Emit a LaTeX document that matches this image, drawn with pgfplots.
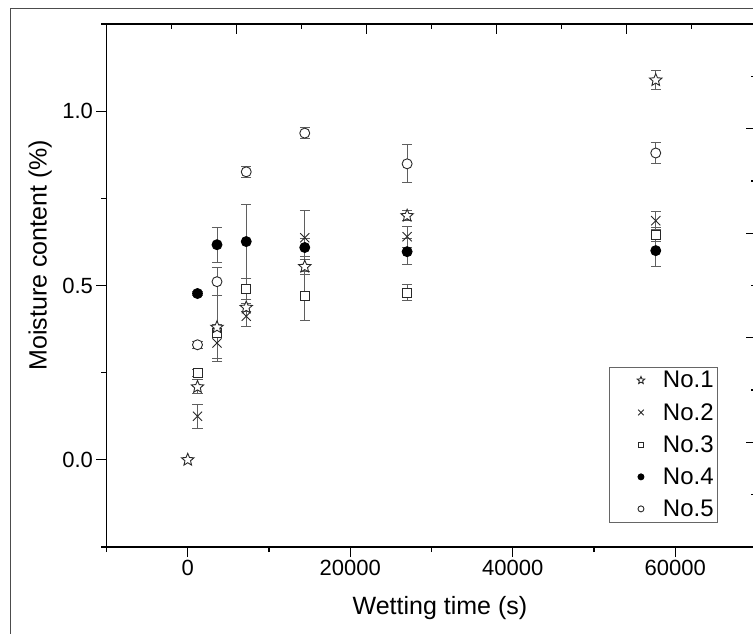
\documentclass[border=0pt]{standalone}
\usepackage{fontspec}
\setmainfont{Liberation Sans}
\usepackage{pgfplots}
\pgfplotsset{compat=1.18}

% hollow five-pointed star
\pgfdeclareplotmark{ostar}{%
  \pgfpathmoveto{\pgfpointpolar{90}{\pgfplotmarksize}}%
  \pgfpathlineto{\pgfpointpolar{126}{0.45\pgfplotmarksize}}%
  \pgfpathlineto{\pgfpointpolar{162}{\pgfplotmarksize}}%
  \pgfpathlineto{\pgfpointpolar{198}{0.45\pgfplotmarksize}}%
  \pgfpathlineto{\pgfpointpolar{234}{\pgfplotmarksize}}%
  \pgfpathlineto{\pgfpointpolar{270}{0.45\pgfplotmarksize}}%
  \pgfpathlineto{\pgfpointpolar{306}{\pgfplotmarksize}}%
  \pgfpathlineto{\pgfpointpolar{342}{0.45\pgfplotmarksize}}%
  \pgfpathlineto{\pgfpointpolar{18}{\pgfplotmarksize}}%
  \pgfpathlineto{\pgfpointpolar{54}{0.45\pgfplotmarksize}}%
  \pgfpathclose
  \pgfusepathqfillstroke
}

\definecolor{errgray}{RGB}{95,95,95}
\definecolor{mkgray}{RGB}{40,40,40}

\pgfplotsset{
  ebar/.style={
    error bars/.cd, y dir=both, y explicit,
    error bar style={line width=1pt, errgray},
    error mark=-,
    error mark options={rotate=90, mark size=5pt, line width=1pt, errgray},
  },
  legend image code/.code={%
    \path[draw=none, fill=none] (0pt,0pt) -- (50pt,0pt);
    \draw[#1, every mark/.append style={scale=0.6}] plot coordinates {(30pt,0pt)};},
}

\begin{document}
\begin{tikzpicture}
\useasboundingbox (0,0) rectangle (753pt,633pt);
\clip (0,0) rectangle (753pt,633pt);
% outer frame
\draw[line width=0.9pt, black!70] (10pt,-20pt) -- (10pt,625pt) -- (800pt,625pt);

\begin{axis}[
  at={(106.5pt,86pt)}, anchor=south west,
  scale only axis, width=650pt, height=523pt,
  xmin=-10000, xmax=70000, ymin=-0.25, ymax=1.25,
  xtick={0,20000,40000,60000},
  minor xtick={-10000,10000,30000,50000,70000},
  ytick={0,0.5,1},
  minor ytick={-0.25,0.25,0.75,1.25},
  xtick pos=left, ytick pos=left, tick align=outside,
  major tick length=10pt, minor tick length=5pt,
  axis line style={line width=1.3pt},
  tick style={line width=1.3pt, black},
  scaled x ticks=false,
  xticklabel style={/pgf/number format/1000 sep={}},
  yticklabel style={/pgf/number format/.cd, fixed, fixed zerofill, precision=1},
  /pgf/number format/assume math mode=true,
  tick label style={font=\fontsize{22}{26}\selectfont},
  label style={font=\fontsize{25}{30}\selectfont},
  xlabel={Wetting time (s)},
  ylabel={Moisture content (\%)},
  xlabel style={at={(axis description cs:0.513,-0.116)}, anchor=center},
  ylabel style={at={(axis description cs:-0.102,0.558)}, anchor=center},
  reverse legend,
  legend cell align=left,
  legend style={at={(axis description cs:0.9408,0.3442)}, anchor=north east,
    draw=black!60, line width=0.7pt, font=\fontsize{24}{28}\selectfont,
    row sep=10pt, inner sep=2pt, nodes={inner sep=2pt}},
]

% No.5 open circle
\addplot[only marks, mark=*, mark size=5pt,
  mark options={fill=white, draw=mkgray, line width=0.9pt}, ebar]
  coordinates {
  (1200,0.330) +- (0,0.010)
  (3600,0.511) +- (0,0.040)
  (7200,0.826) +- (0,0.015)
  (14400,0.937) +- (0,0.015)
  (27000,0.849) +- (0,0.055)
  (57600,0.880) +- (0,0.029)
};
\addlegendentry{No.5}

% No.4 filled circle
\addplot[only marks, mark=*, mark size=5pt,
  mark options={fill=black, draw=black, line width=0.9pt}, ebar]
  coordinates {
  (1200,0.477) +- (0,0.005)
  (3600,0.617) +- (0,0.050)
  (7200,0.626) +- (0,0.107)
  (14400,0.609) +- (0,0.025)
  (27000,0.597) +- (0,0.037)
  (57600,0.600) +- (0,0.046)
};
\addlegendentry{No.4}

% No.3 square
\addplot[only marks, mark=square*, mark size=4.5pt,
  mark options={fill=white, draw=mkgray, line width=0.9pt}, ebar]
  coordinates {
  (1200,0.250) +- (0,0.010)
  (3600,0.365) +- (0,0.010)
  (7200,0.490) +- (0,0.030)
  (14400,0.470) +- (0,0.070)
  (27000,0.480) +- (0,0.023)
  (57600,0.645) +- (0,0.020)
};
\addlegendentry{No.3}

% No.2 cross
\addplot[only marks, mark=x, mark size=6.5pt,
  mark options={draw=mkgray, line width=0.9pt}, ebar]
  coordinates {
  (1200,0.125) +- (0,0.035)
  (3600,0.335) +- (0,0.052)
  (7200,0.412) +- (0,0.030)
  (14400,0.637) +- (0,0.077)
  (27000,0.640) +- (0,0.030)
  (57600,0.686) +- (0,0.025)
};
\addlegendentry{No.2}

% No.1 star
\addplot[only marks, mark=ostar, mark size=6.5pt,
  mark options={fill=white, draw=mkgray, line width=0.9pt}, ebar]
  coordinates {
  (0,0.000) +- (0,0.000)
  (1200,0.209) +- (0,0.020)
  (3600,0.380) +- (0,0.090)
  (7200,0.437) +- (0,0.012)
  (14400,0.554) +- (0,0.022)
  (27000,0.700) +- (0,0.015)
  (57600,1.089) +- (0,0.027)
};
\addlegendentry{No.1}

\end{axis}

% mirror axes on top and right with their own tick spacing
\begin{axis}[
  at={(106.5pt,86pt)}, anchor=south west,
  scale only axis, width=650pt, height=523pt,
  xmin=0, xmax=5, ymin=0, ymax=5,
  xtick={0,...,5}, ytick={0,...,5}, minor tick num=1,
  xtick pos=right, ytick pos=right, tick align=inside,
  xticklabels={}, yticklabels={},
  major tick length=10pt, minor tick length=5pt,
  axis line style={line width=1.3pt},
  tick style={line width=1.3pt, black},
]
\end{axis}
\end{tikzpicture}
\end{document}
